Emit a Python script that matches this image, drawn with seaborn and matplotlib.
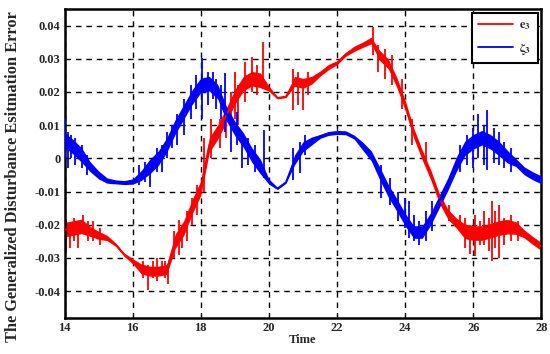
import numpy as np
import pandas as pd
import matplotlib
matplotlib.use("Agg")
import matplotlib.pyplot as plt
import seaborn as sns

# ---- data ----
time = [14.00, 14.25, 14.50, 14.75, 15.00, 15.25, 15.50, 15.75, 16.00, 16.25,
        16.50, 16.75, 17.00, 17.25, 17.50, 17.75, 18.00, 18.25, 18.50, 18.75,
        19.00, 19.25, 19.50, 19.75, 20.00, 20.25, 20.50, 20.75, 21.00, 21.25,
        21.50, 21.75, 22.00, 22.25, 22.50, 22.75, 23.00, 23.25, 23.50, 23.75,
        24.00, 24.25, 24.50, 24.75, 25.00, 25.25, 25.50, 25.75, 26.00, 26.25,
        26.50, 26.75, 27.00, 27.25, 27.50, 27.75, 28.00]

e3 = [-0.0215, -0.0210, -0.0205, -0.0220, -0.0232, -0.0240, -0.0260, -0.0290, -0.0310, -0.0333,
      -0.0340, -0.0340, -0.0335, -0.0250, -0.0210, -0.0145, -0.0090, 0.0040, 0.0080, 0.0130,
      0.0185, 0.0225, 0.0240, 0.0235, 0.0210, 0.0182, 0.0186, 0.0232, 0.0226, 0.0235,
      0.0255, 0.0275, 0.0288, 0.0313, 0.0330, 0.0342, 0.0355, 0.0310, 0.0285, 0.0230,
      0.0160, 0.0076, 0.0010, -0.0050, -0.0120, -0.0168, -0.0195, -0.0220, -0.0225, -0.0225,
      -0.0218, -0.0210, -0.0206, -0.0210, -0.0228, -0.0248, -0.0266]

e3_spread = [0.0022, 0.0022, 0.0022, 0.0015, 0.0012, 0.0008, 0.0005, 0.0005, 0.0008, 0.0015,
             0.0015, 0.0015, 0.0015, 0.0022, 0.0022, 0.0022, 0.0022, 0.0022, 0.0022, 0.0022,
             0.0022, 0.0022, 0.0022, 0.0022, 0.0008, 0.0003, 0.0003, 0.0015, 0.0015, 0.0012,
             0.0008, 0.0008, 0.0006, 0.0006, 0.0008, 0.0008, 0.0010, 0.0015, 0.0015, 0.0015,
             0.0015, 0.0015, 0.0015, 0.0015, 0.0015, 0.0015, 0.0015, 0.0022, 0.0022, 0.0022,
             0.0022, 0.0022, 0.0022, 0.0019, 0.0012, 0.0012, 0.0012]

zeta3 = [0.0055, 0.0035, 0.0010, -0.0025, -0.0050, -0.0067, -0.0071, -0.0073, -0.0070, -0.0052,
         -0.0025, 0.0000, 0.0040, 0.0095, 0.0140, 0.0185, 0.0220, 0.0225, 0.0200, 0.0135,
         0.0090, 0.0055, 0.0010, -0.0025, -0.0070, -0.0091, -0.0072, -0.0005, 0.0035, 0.0052,
         0.0066, 0.0075, 0.0078, 0.0077, 0.0064, 0.0037, 0.0008, -0.0045, -0.0097, -0.0140,
         -0.0185, -0.0222, -0.0222, -0.0182, -0.0130, -0.0078, -0.0018, 0.0030, 0.0050, 0.0062,
         0.0050, 0.0030, 0.0005, -0.0013, -0.0038, -0.0053, -0.0065]

zeta3_spread = [0.0022, 0.0022, 0.0022, 0.0015, 0.0012, 0.0008, 0.0006, 0.0006, 0.0008, 0.0015,
                0.0022, 0.0022, 0.0022, 0.0022, 0.0022, 0.0022, 0.0022, 0.0022, 0.0022, 0.0022,
                0.0022, 0.0022, 0.0022, 0.0022, 0.0008, 0.0003, 0.0003, 0.0015, 0.0015, 0.0012,
                0.0006, 0.0006, 0.0006, 0.0006, 0.0006, 0.0012, 0.0015, 0.0019, 0.0019, 0.0019,
                0.0019, 0.0019, 0.0019, 0.0019, 0.0019, 0.0019, 0.0022, 0.0022, 0.0022, 0.0022,
                0.0022, 0.0022, 0.0019, 0.0012, 0.0012, 0.0012, 0.0012]

# noise spikes (time, low, high)
e3_spike_t = [14.03, 14.15, 14.27, 14.40, 14.55, 14.70, 14.85, 15.05, 16.30, 16.45,
              16.60, 16.70, 16.85, 16.95, 17.05, 17.20, 17.35, 17.45, 17.60, 17.75,
              17.90, 18.10, 18.30, 18.55, 18.75, 18.90, 19.00, 19.10, 19.30, 19.50,
              19.65, 19.82, 20.72, 20.85, 21.00, 21.15, 23.05, 23.20, 23.40, 23.60,
              23.90, 24.20, 24.60, 25.30, 25.60, 25.75, 25.90, 26.05, 26.20, 26.30,
              26.45, 26.55, 26.65, 26.75, 26.90, 27.10, 27.30]
e3_spike_lo = [-0.0286, -0.027, -0.025, -0.027, -0.022, -0.025, -0.025, -0.026, -0.036, -0.0397,
               -0.036, -0.037, -0.035, -0.036, -0.038, -0.030, -0.029, -0.027, -0.025, -0.020,
               -0.017, -0.010, 0.000, 0.003, 0.006, 0.010, 0.012, 0.010, 0.017, 0.020,
               0.019, 0.021, 0.0145, 0.016, 0.0145, 0.019, 0.031, 0.026, 0.024, 0.022,
               0.015, 0.004, -0.002, -0.019, -0.022, -0.027, -0.0287, -0.0293, -0.026, -0.026,
               -0.028, -0.031, -0.027, -0.030, -0.026, -0.025, -0.025]
e3_spike_hi = [-0.019, -0.020, -0.018, -0.019, -0.017, -0.019, -0.019, -0.021, -0.031, -0.032,
               -0.031, -0.030, -0.031, -0.031, -0.033, -0.022, -0.0185, -0.020, -0.016, -0.012,
               -0.008, 0.006, 0.012, 0.012, 0.015, 0.020, 0.026, 0.022, 0.029, 0.0305,
               0.028, 0.0351, 0.027, 0.026, 0.024, 0.026, 0.0396, 0.034, 0.033, 0.031,
               0.024, 0.012, 0.005, -0.014, -0.017, -0.018, -0.020, -0.017, -0.019, -0.016,
               -0.018, -0.013, -0.016, -0.014, -0.018, -0.017, -0.019]

zeta3_spike_t = [14.00, 14.10, 14.20, 14.30, 14.50, 14.65, 16.20, 16.35, 16.50, 16.70,
                 16.85, 17.00, 17.15, 17.30, 17.50, 17.70, 17.85, 18.05, 18.20, 18.35,
                 18.45, 18.60, 18.70, 18.90, 19.05, 19.20, 19.40, 19.60, 19.85, 20.70,
                 20.90, 21.05, 23.30, 23.55, 23.80, 24.00, 24.10, 24.25, 24.40, 24.60,
                 24.80, 25.60, 25.80, 26.00, 26.15, 26.30, 26.40, 26.60, 26.75, 26.90,
                 27.10]
zeta3_spike_lo = [0.000, -0.003, 0.000, -0.002, -0.003, -0.005, -0.008, -0.007, -0.0085, -0.004,
                  -0.004, 0.000, 0.003, 0.004, 0.007, 0.012, 0.015, 0.012, 0.016, 0.018,
                  0.015, 0.012, 0.008, 0.002, 0.004, -0.003, -0.002, -0.004, -0.006, -0.0065,
                  -0.0045, 0.001, -0.012, -0.014, -0.019, -0.021, -0.024, -0.025, -0.026, -0.025,
                  -0.022, -0.004, -0.002, -0.003, 0.000, -0.002, -0.0035, -0.0015, -0.002, -0.003,
                  -0.004]
zeta3_spike_hi = [0.0119, 0.008, 0.007, 0.006, 0.004, 0.001, -0.002, -0.001, -0.001, 0.003,
                  0.004, 0.008, 0.010, 0.0135, 0.018, 0.022, 0.025, 0.0302, 0.026, 0.026,
                  0.024, 0.022, 0.0256, 0.012, 0.014, 0.008, 0.006, 0.004, 0.0085, 0.003,
                  0.005, 0.007, -0.002, -0.006, -0.010, -0.012, -0.013, -0.017, -0.019, -0.016,
                  -0.013, 0.004, 0.007, 0.009, 0.0135, 0.010, 0.0145, 0.009, 0.008, 0.005,
                  0.003]

x_ticks = [14, 16, 18, 20, 22, 24, 26, 28]
y_ticks = [-0.04, -0.03, -0.02, -0.01, 0, 0.01, 0.02, 0.03, 0.04]
y_tick_labels = ["-0.04", "-0.03", "-0.02", "-0.01", "0", "0.01", "0.02", "0.03", "0.04"]

label_e = r"$\mathbf{e_3}$"
label_z = r"$\mathbf{\zeta_3}$"

# ---- plot ----
sns.set_theme(style="white")
plt.rcParams["font.family"] = ["Liberation Serif", "DejaVu Serif"]
plt.rcParams["mathtext.fontset"] = "stix"

df = pd.DataFrame({"Time": time * 2,
                   "value": e3 + zeta3,
                   "series": [label_e] * len(time) + [label_z] * len(time)})

fig = plt.figure(figsize=(5.5, 3.54), dpi=100)
ax = fig.add_axes([0.1173, 0.1008, 0.8672, 0.8729])

red = "#ff0000"
blue = "#0000ff"

ax.fill_between(time, np.array(e3) - np.array(e3_spread), np.array(e3) + np.array(e3_spread),
                color=red, lw=0, zorder=2)
ax.fill_between(time, np.array(zeta3) - np.array(zeta3_spread), np.array(zeta3) + np.array(zeta3_spread),
                color=blue, lw=0, zorder=3)
ax.vlines(e3_spike_t, e3_spike_lo, e3_spike_hi, color=red, lw=1.3, zorder=2)
ax.vlines(zeta3_spike_t, zeta3_spike_lo, zeta3_spike_hi, color=blue, lw=1.3, zorder=3)

sns.lineplot(data=df, x="Time", y="value", hue="series",
             palette={label_e: red, label_z: blue}, lw=1.3, ax=ax, zorder=4)

ax.set_xlim(14, 28)
ax.set_ylim(-0.0482, 0.0449)
ax.set_xticks(x_ticks)
ax.set_xticklabels([str(t) for t in x_ticks], fontweight="bold", fontsize=9)
ax.set_yticks(y_ticks)
ax.set_yticklabels(y_tick_labels, fontweight="bold", fontsize=9)
ax.tick_params(axis="both", length=0, pad=3)

ax.grid(True, color="black", linestyle=(0, (4, 3.5)), linewidth=1.0)
for s in ax.spines.values():
    s.set_color("black")
    s.set_linewidth(1.8)

ax.set_xlabel("Time", fontweight="bold", fontsize=9, labelpad=0)
ax.set_ylabel("")
fig.text(0.024, 0.5, "The Generalized Disturbance Esitmation Error", fontweight="bold",
         fontsize=11.8, rotation=90, ha="center", va="center")

leg = ax.legend(loc="upper right", fontsize=9, frameon=True, fancybox=False,
                handlelength=2.8, borderaxespad=0.3, borderpad=0.5, labelspacing=0.7,
                handletextpad=0.5)
leg.get_frame().set_edgecolor("black")
leg.get_frame().set_linewidth(1.5)
leg.get_frame().set_alpha(1)

fig.savefig("out.png", dpi=100)
